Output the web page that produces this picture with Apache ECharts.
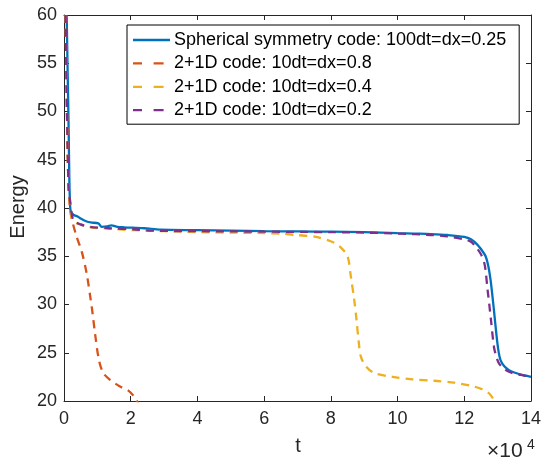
<!DOCTYPE html>
<html>
<head>
<meta charset="utf-8">
<script src="https://cdn.jsdelivr.net/npm/echarts@6/dist/echarts.min.js"></script>
<style>html,body{margin:0;padding:0;background:#fff}#c{width:544px;height:460px}</style>
</head>
<body>
<div id="c"></div>
<script>
// t values are in units of 1e4
const seriesNames = [
  'Spherical symmetry code: 100dt=dx=0.25',
  '2+1D code: 10dt=dx=0.8',
  '2+1D code: 10dt=dx=0.4',
  '2+1D code: 10dt=dx=0.2'
];
const xTicks = [0, 2, 4, 6, 8, 10, 12, 14];
const yTicks = [20, 25, 30, 35, 40, 45, 50, 55, 60];

const sphT = [0.08,0.11,0.14,0.16,0.18,0.2,0.28,0.42,0.5,0.68,0.8,1.03,1.13,1.3,1.42,1.6,1.8,2.4,2.9,4,5,6,7,8,9,10,10.5,11,11.5,12,12.2,12.39,12.55,12.64,12.72,12.79,12.84,12.89,12.96,13.02,13.09,13.2,13.34,13.5,13.64,13.8,14];
const sphE = [60,54,48,43,40.5,39.7,39.3,39.1,38.9,38.6,38.5,38.4,38.05,38.1,38.2,38.05,38.0,37.9,37.75,37.7,37.65,37.6,37.57,37.55,37.5,37.4,37.35,37.3,37.2,37.0,36.75,36.2,35.5,35.0,34.0,32.5,31.0,29.4,27.0,25.3,24.2,23.6,23.2,22.95,22.8,22.65,22.5];

const d08T = [0.05,0.08,0.11,0.14,0.18,0.23,0.38,0.53,0.68,0.8,0.86,0.93,1.05,1.18,1.38,1.68,1.92,2.07,2.17,2.25];
const d08E = [60,52,46,42,40,38.9,37.0,35.5,33.2,30.5,29.0,27.0,24.2,22.9,22.2,21.5,21.1,20.6,20.1,19.5];

const d04T = [0.05,0.08,0.11,0.14,0.18,0.25,0.4,0.8,1.4,2.1,3,4,5,6,6.5,6.96,7.56,8.1,8.3,8.5,8.6,8.7,8.77,8.83,8.9,9.05,9.3,9.85,10.45,11.1,11.7,12.29,12.55,12.74,12.89,12.95];
const d04E = [60,52,46,42,40.5,38.8,38.4,38.0,37.85,37.7,37.6,37.5,37.45,37.4,37.35,37.2,37.0,36.4,35.9,35.0,32.9,30.5,28.4,26.3,24.6,23.6,22.9,22.5,22.25,22.1,21.9,21.5,21.2,20.8,20.1,19.6];

const d02T = [0.05,0.08,0.11,0.14,0.18,0.28,0.5,0.78,1.37,2.07,2.66,4,6,8,9,10,11,11.5,12,12.2,12.34,12.5,12.6,12.64,12.69,12.75,12.8,12.89,12.96,13.04,13.2,13.43,13.7,14];
const d02E = [60,52,46,42,40.8,38.75,38.3,38.05,37.9,37.8,37.65,37.6,37.55,37.5,37.45,37.35,37.2,37.05,36.75,36.5,36.0,35.2,34.3,33.5,31.8,30.0,28.4,25.6,24.6,23.9,23.3,22.9,22.7,22.5];

const colors = ['#0072BD', '#D95319', '#EDB120', '#7E2F8E'];
const zip = (a, b) => a.map((v, i) => [v, b[i]]);
const data = [zip(sphT, sphE), zip(d08T, d08E), zip(d04T, d04E), zip(d02T, d02E)];

const axCol = '#262626';
const FONT = 'Liberation Sans, Arial, sans-serif';
const solidIcon = 'path://M0,0h37v2.3h-37z';
const dashIcon = 'path://M0,0h9v2.3h-9z M20.6,0h10v2.3h-10z M37,0v2.3v-2.3z';

const chart = echarts.init(document.getElementById('c'), null, {renderer: 'canvas'});
const baseX = {
  type: 'value', min: xTicks[0], max: xTicks[xTicks.length - 1], interval: 2,
  axisLine: {show: true, onZero: false, lineStyle: {color: axCol, width: 1}},
  axisTick: {show: true, inside: true, length: 5, lineStyle: {color: axCol}},
  splitLine: {show: false}
};
const baseY = {
  type: 'value', min: yTicks[0], max: yTicks[yTicks.length - 1], interval: 5,
  axisLine: {show: true, onZero: false, lineStyle: {color: axCol, width: 1}},
  axisTick: {show: true, inside: true, length: 5, lineStyle: {color: axCol}},
  splitLine: {show: false}
};
chart.setOption({
  animation: false,
  backgroundColor: '#fff',
  textStyle: {fontFamily: FONT},
  grid: {left: 64, right: 12, top: 15, bottom: 59, containLabel: false},
  xAxis: [
    Object.assign({}, baseX, {position: 'bottom',
      axisLabel: {show: true, fontSize: 18, color: axCol, margin: 9, fontFamily: FONT}}),
    Object.assign({}, baseX, {position: 'top', axisLabel: {show: false}})
  ],
  yAxis: [
    Object.assign({}, baseY, {position: 'left',
      axisLabel: {show: true, fontSize: 18, color: axCol, margin: 7, fontFamily: FONT}}),
    Object.assign({}, baseY, {position: 'right', axisLabel: {show: false}})
  ],
  legend: {
    show: true, orient: 'vertical', left: 127, top: 25,
    backgroundColor: '#fff', borderColor: '#000', borderWidth: 1,
    padding: [6, 13, 5, 6], itemGap: 5.4, itemWidth: 37, itemHeight: 2.3,
    symbolKeepAspect: false,
    itemStyle: {borderWidth: 0},
    textStyle: {fontSize: 18, color: '#000', fontFamily: FONT, padding: [0, 0, 0, -1], lineHeight: 18},
    data: seriesNames.map((n, i) => ({name: n, icon: i === 0 ? solidIcon : dashIcon}))
  },
  series: seriesNames.map((n, i) => ({
    name: n, type: 'line', data: data[i], showSymbol: false, symbol: 'none',
    smooth: 0.3, clip: true, z: i === 0 ? 2 : 3 + i,
    lineStyle: {color: colors[i], width: 2.3, type: i === 0 ? 'solid' : [8, 6]},
    itemStyle: {color: colors[i]}
  })),
  graphic: [
    {type: 'text', x: 18, y: 207, rotation: Math.PI / 2,
      style: {text: 'Energy', fontSize: 20, fill: axCol, fontFamily: FONT, align: 'center', verticalAlign: 'middle'}},
    {type: 'text', x: 298, y: 446,
      style: {text: 't', fontSize: 20, fill: axCol, fontFamily: FONT, align: 'center', verticalAlign: 'middle'}},
    {type: 'text', x: 487, y: 451,
      style: {text: '×10', fontSize: 21, fill: axCol, fontFamily: FONT, align: 'left', verticalAlign: 'middle'}},
    {type: 'text', x: 527, y: 445,
      style: {text: '4', fontSize: 14, fill: axCol, fontFamily: FONT, align: 'left', verticalAlign: 'middle'}}
  ]
});
</script>
</body>
</html>
